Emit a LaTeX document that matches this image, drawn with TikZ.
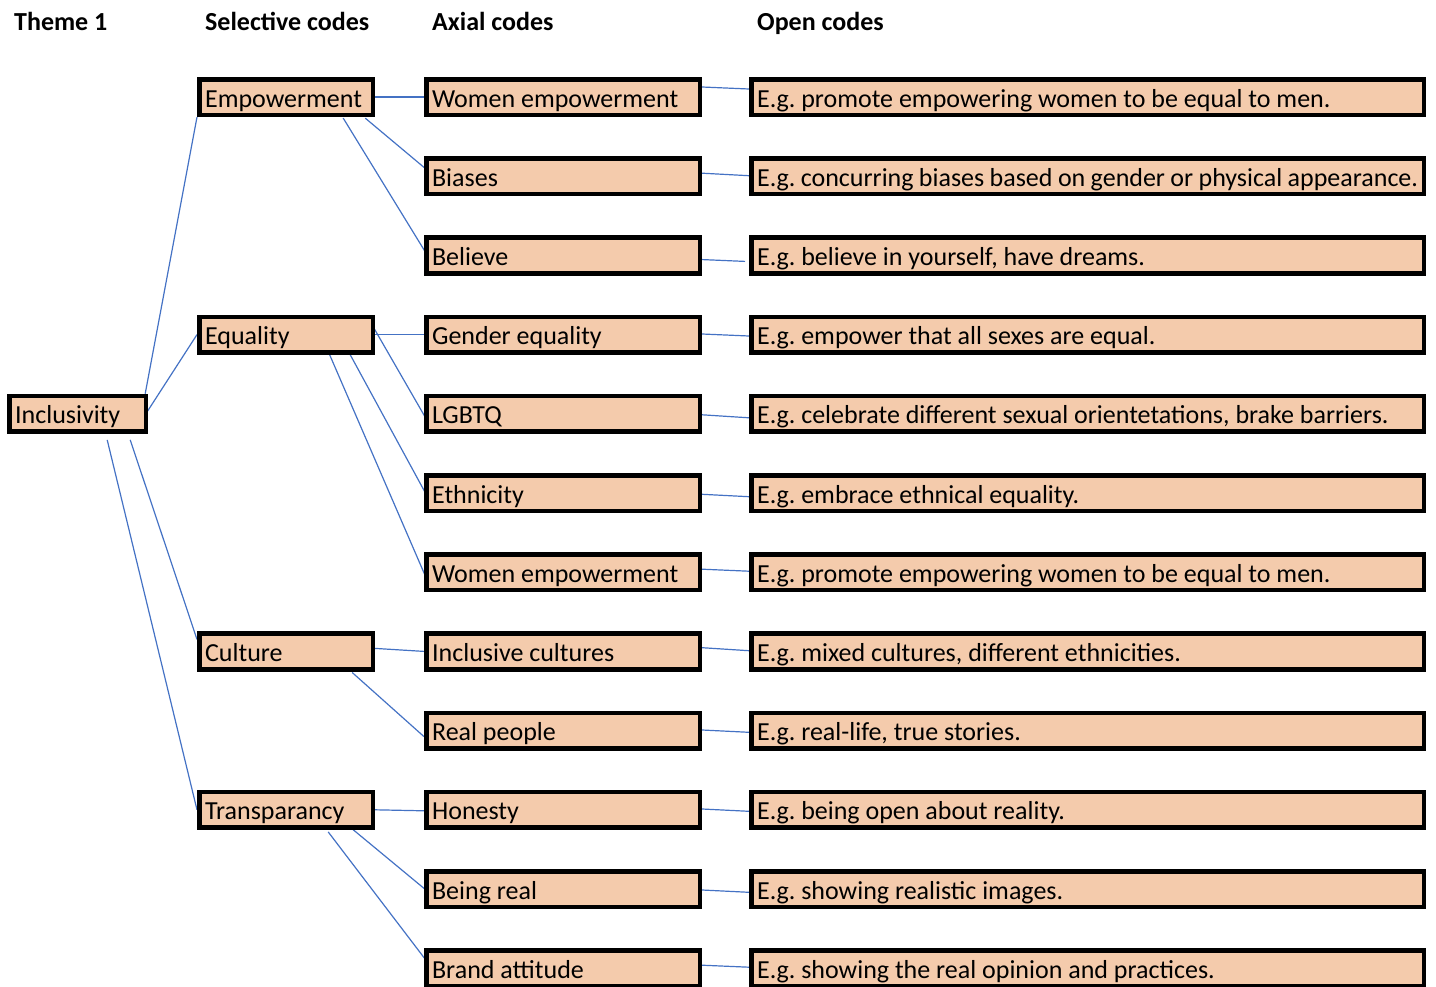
\documentclass[tikz,border=0pt]{standalone}
\usepackage{fontspec}
\setmainfont{Carlito}
\frenchspacing
\usetikzlibrary{calc,backgrounds}
\definecolor{peach}{RGB}{244,203,172}
\definecolor{linkblue}{RGB}{68,114,196}
\begin{document}
\frenchspacing
\begin{tikzpicture}[x=1pt,y=-1pt,
  font=\fontsize{26pt}{30pt}\selectfont,
  box/.style={draw=black, line width=4.6pt, fill=peach, anchor=west,
    minimum height=35.6pt, inner ysep=0pt, inner xsep=5.7pt,
    text height=26pt, text depth=6pt},
  inclbox/.style={box, minimum width=136.6pt,
    execute at begin node={\hbox to 125pt\bgroup}, execute at end node={\hfil\egroup}},
  selbox/.style={box, minimum width=173.6pt,
    execute at begin node={\hbox to 162pt\bgroup}, execute at end node={\hfil\egroup}},
  axbox/.style={box, minimum width=273.6pt,
    execute at begin node={\hbox to 262pt\bgroup}, execute at end node={\hfil\egroup}},
  openbox/.style={box, minimum width=672.6pt,
    execute at begin node={\hbox to 661pt\bgroup}, execute at end node={\hfil\egroup}},
  head/.style={font=\fontsize{26pt}{30pt}\selectfont\bfseries, anchor=base west, inner sep=0pt},
  link/.style={draw=linkblue, line width=1.2pt}]
\useasboundingbox (0,0) rectangle (1436,986);

% headers
\node[head] (h1) at (14,30) {Theme 1};
\node[head] (h2) at (205,30) {Selective codes};
\node[head] (h3) at (432,30) {Axial codes};
\node[head] (h4) at (757,30) {Open codes};

% theme
\node[inclbox] (incl) at (7,413.8) {Inclusivity};

% selective codes
\node[selbox] (emp) at (197,97) {Empowerment};
\node[selbox] (equ) at (197,334.6) {Equality};
\node[selbox] (cul) at (197,651.4) {Culture};
\node[selbox] (tra) at (197,809.8) {Transparancy};

% axial codes
\node[axbox] (a0) at (424,97) {Women empowerment};
\node[axbox] (a1) at (424,176.2) {Biases};
\node[axbox] (a2) at (424,255.4) {Believe};
\node[axbox] (a3) at (424,334.6) {Gender equality};
\node[axbox] (a4) at (424,413.8) {LGBTQ};
\node[axbox] (a5) at (424,493) {Ethnicity};
\node[axbox] (a6) at (424,572.2) {Women empowerment};
\node[axbox] (a7) at (424,651.4) {Inclusive cultures};
\node[axbox] (a8) at (424,730.6) {Real people};
\node[axbox] (a9) at (424,809.8) {Honesty};
\node[axbox] (a10) at (424,889) {Being real};
\node[axbox] (a11) at (424,968.2) {Brand attitude};

% open codes
\node[openbox] (o0) at (749,97) {E.g. promote empowering women to be equal to men.};
\node[openbox] (o1) at (749,176.2) {E.g. concurring biases based on gender or physical appearance.};
\node[openbox] (o2) at (749,255.4) {E.g. believe in yourself, have dreams.};
\node[openbox] (o3) at (749,334.6) {E.g. empower that all sexes are equal.};
\node[openbox] (o4) at (749,413.8) {E.g. celebrate different sexual orientetations, brake barriers.};
\node[openbox] (o5) at (749,493) {E.g. embrace ethnical equality.};
\node[openbox] (o6) at (749,572.2) {E.g. promote empowering women to be equal to men.};
\node[openbox] (o7) at (749,651.4) {E.g. mixed cultures, different ethnicities.};
\node[openbox] (o8) at (749,730.6) {E.g. real-life, true stories.};
\node[openbox] (o9) at (749,809.8) {E.g. being open about reality.};
\node[openbox] (o10) at (749,889) {E.g. showing realistic images.};
\node[openbox] (o11) at (749,968.2) {E.g. showing the real opinion and practices.};

\begin{scope}[on background layer]
  % theme -> selective
  \draw[link] ($(incl.north east)+(-3,0)$) -- (emp.south west);
  \draw[link] ($(incl.east)+(-3,1)$) -- (equ.west);
  \draw[link] ($(incl.south east)+(-18,6)$) -- ($(cul.west)+(0,-12)$);
  \draw[link] ($(incl.south east)+(-41,6)$) -- (tra.west);
  % selective -> axial
  \draw[link] (emp.east) -- (a0.west);
  \draw[link] ($(emp.south east)+(-10,1)$) -- ($(a1.west)+(1,-8)$);
  \draw[link] ($(emp.south east)+(-32,1)$) -- ($(a2.west)+(1,-4)$);
  \draw[link] (equ.east) -- (a3.west);
  \draw[link] ($(equ.east)+(-1,-6)$) -- ($(a4.west)+(1,3)$);
  \draw[link] ($(equ.south east)+(-25,0)$) -- ($(a5.west)+(2,1)$);
  \draw[link] ($(equ.south east)+(-46,-1)$) -- ($(a6.west)+(1,3)$);
  \draw[link] ($(cul.east)+(0,-3)$) -- (a7.west);
  \draw[link] ($(cul.south east)+(-23,1)$) -- ($(a8.west)+(0,6)$);
  \draw[link] (tra.east) -- ($(a9.west)+(0,1)$);
  \draw[link] ($(tra.south east)+(-23,-1)$) -- ($(a10.west)+(2,1)$);
  \draw[link] ($(tra.south east)+(-47,2)$) -- ($(a11.west)+(2,-8)$);
  % axial -> open
  \draw[link] ($(a0.east)+(0,-10)$) -- ($(o0.west)+(0,-8)$);
  \draw[link] ($(a1.east)+(0,-3)$) -- ($(o1.west)+(0,-0.5)$);
  \draw[link] ($(a2.east)+(-4,4)$) -- ($(o2.west)+(-4,6)$);
  \draw[link] ($(a3.east)+(0,-0.6)$) -- ($(o3.west)+(0,1.4)$);
  \draw[link] ($(a4.east)+(0,1)$) -- ($(o4.west)+(0,4)$);
  \draw[link] ($(a5.east)+(0,1.3)$) -- ($(o5.west)+(0,3.7)$);
  \draw[link] ($(a6.east)+(0,-3)$) -- ($(o6.west)+(0,-1)$);
  \draw[link] ($(a7.east)+(0,-3.7)$) -- ($(o7.west)+(0,-0.7)$);
  \draw[link] ($(a8.east)+(0,-0.6)$) -- ($(o8.west)+(0,1.7)$);
  \draw[link] ($(a9.east)+(0,-0.8)$) -- ($(o9.west)+(0,1.5)$);
  \draw[link] ($(a10.east)+(0,1)$) -- ($(o10.west)+(0,3.3)$);
  \draw[link] ($(a11.east)+(0,-3)$) -- ($(o11.west)+(0,-1)$);
\end{scope}
\end{tikzpicture}
\end{document}
